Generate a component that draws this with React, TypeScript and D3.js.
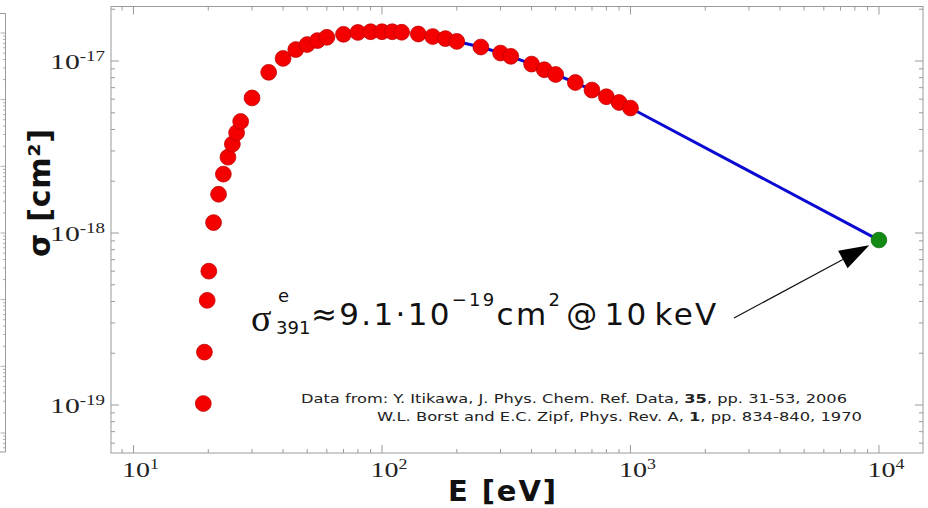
import React from "react";
import * as d3 from "d3";

const WIDTH = 928;
const HEIGHT = 508;

// Measured emission cross section of the N2+ 391.4 nm band under electron impact
const energyEV = [
  19.1, 19.3, 19.8, 20.1, 21, 22, 23, 24, 25, 26, 27, 30, 35, 40, 45, 50, 55, 60,
  70, 80, 90, 100, 110, 120, 140, 160, 180, 200, 250, 300, 330, 400, 450, 500,
  600, 700, 800, 900, 1000,
];
const sigmaCm2 = [
  1.02e-19, 2.03e-19, 4.06e-19, 6.0e-19, 1.15e-18, 1.68e-18, 2.2e-18, 2.76e-18,
  3.29e-18, 3.83e-18, 4.45e-18, 6.1e-18, 8.6e-18, 1.035e-17, 1.166e-17, 1.247e-17,
  1.315e-17, 1.374e-17, 1.43e-17, 1.466e-17, 1.48e-17, 1.48e-17, 1.48e-17, 1.47e-17,
  1.436e-17, 1.388e-17, 1.35e-17, 1.3e-17, 1.206e-17, 1.113e-17, 1.065e-17, 9.6e-18,
  8.9e-18, 8.35e-18, 7.5e-18, 6.78e-18, 6.2e-18, 5.74e-18, 5.33e-18,
];

// High-energy trend line starts here and is extended to 10 keV
const fitStartEV = 200;
const extrapEnergyEV = [10000];
const extrapSigmaCm2 = [9.1e-19];

const xDomain = [8.12, 15040];
const yDomain = [5.26e-20, 2.075e-17];

const refLine1 = ["Data from: Y. Itikawa, J. Phys. Chem. Ref. Data, ", "35", ", pp. 31-53, 2006"];
const refLine2 = ["W.L. Borst and E.C. Zipf, Phys. Rev. A, ", "1", ", pp. 834-840, 1970"];

const frame = { left: 111, right: 923, top: 6.5, bottom: 453 };
const GRAY = "#9a9a9a";
const SANS = "'DejaVu Sans', Verdana, sans-serif";
const SERIF = "'Liberation Serif', 'Times New Roman', serif";

const isDecade = (v: number) =>
  Math.abs(Math.log10(v) - Math.round(Math.log10(v))) < 1e-9;

export default function App() {
  const x = d3.scaleLog().domain(xDomain).range([frame.left, frame.right]);
  const y = d3.scaleLog().domain(yDomain).range([frame.bottom, frame.top]);

  const xTicks = x.ticks();
  const yTicks = y.ticks();

  const points = energyEV.map((e, i) => ({ e, s: sigmaCm2[i] }));
  const trend = points
    .filter((p) => p.e >= fitStartEV)
    .concat(extrapEnergyEV.map((e, i) => ({ e, s: extrapSigmaCm2[i] })));
  const line = d3
    .line<{ e: number; s: number }>()
    .x((d) => x(d.e))
    .y((d) => y(d.s));

  // Annotation arrow pointing at the extrapolated value
  const target = { x: x(extrapEnergyEV[0]), y: y(extrapSigmaCm2[0]) };
  const start = { x: 734, y: 318 };
  const dx = start.x - target.x;
  const dy = start.y - target.y;
  const len = Math.hypot(dx, dy);
  const ux = dx / len;
  const uy = dy / len;
  const tip = { x: target.x + ux * 11, y: target.y + uy * 11 };
  const headLen = 30;
  const headHalf = 10;
  const base = { x: tip.x + ux * headLen, y: tip.y + uy * headLen };
  const head = [
    [tip.x, tip.y],
    [base.x - uy * headHalf, base.y + ux * headHalf],
    [base.x + uy * headHalf, base.y - ux * headHalf],
  ];

  // Partial axis of an adjacent panel along the left edge
  const side = d3.scaleLog().domain([1, 1e6]).range([433, 33]);
  const sideTicks: { y: number; major: boolean }[] = [];
  for (let k = -1; k <= 7; k++) {
    for (let m = 1; m <= 9; m++) {
      const yy = side(m * Math.pow(10, k));
      if (yy > 14 && yy < 451) sideTicks.push({ y: yy, major: m === 1 });
    }
  }

  const mainSize = 31;
  const supSize = 18;
  const baseY = 325;
  const supShift = 19;

  return (
    <svg
      width={WIDTH}
      height={HEIGHT}
      style={{ position: "absolute", left: 0, top: 0, background: "#fff" }}
    >
      <rect x={0} y={0} width={WIDTH} height={HEIGHT} fill="#fff" />

      {/* adjacent panel edge */}
      <path d="M0,13.5H5.5V452H0" fill="none" stroke={GRAY} strokeWidth={1} />
      {sideTicks.map((t, i) => (
        <line
          key={i}
          x1={5.5}
          x2={t.major ? 0.5 : 3}
          y1={t.y}
          y2={t.y}
          stroke={GRAY}
          strokeWidth={0.8}
        />
      ))}

      {/* frame */}
      <rect
        x={frame.left}
        y={frame.top}
        width={frame.right - frame.left}
        height={frame.bottom - frame.top}
        fill="none"
        stroke={GRAY}
        strokeWidth={1}
      />

      {/* x ticks, bottom and top */}
      {xTicks.map((t, i) => {
        const L = isDecade(t) ? 8 : 4;
        const xx = x(t);
        return (
          <g key={i} stroke={GRAY} strokeWidth={1}>
            <line x1={xx} x2={xx} y1={frame.bottom} y2={frame.bottom - L} />
            <line x1={xx} x2={xx} y1={frame.top} y2={frame.top + L} />
          </g>
        );
      })}
      {/* y ticks, left and right */}
      {yTicks.map((t, i) => {
        const L = isDecade(t) ? 8 : 4;
        const yy = y(t);
        return (
          <g key={i} stroke={GRAY} strokeWidth={1}>
            <line x1={frame.left} x2={frame.left + L} y1={yy} y2={yy} />
            <line x1={frame.right} x2={frame.right - L} y1={yy} y2={yy} />
          </g>
        );
      })}

      {/* x tick labels */}
      {xTicks.filter(isDecade).map((t, i) => (
        <text
          key={i}
          x={x(t) - 11.5}
          y={477}
          fontFamily={SERIF}
          fontSize={22}
          fill="#222"
          textLength={37}
          lengthAdjust="spacingAndGlyphs"
        >
          10
          <tspan dy={-8} fontSize={14}>
            {Math.round(Math.log10(t))}
          </tspan>
        </text>
      ))}

      {/* y tick labels */}
      {yTicks.filter(isDecade).map((t, i) => (
        <text
          key={i}
          x={50}
          y={y(t) + 8}
          fontFamily={SERIF}
          fontSize={22}
          fill="#222"
          textLength={55}
          lengthAdjust="spacingAndGlyphs"
        >
          10
          <tspan dy={-8} fontSize={14}>
            {"-" + Math.abs(Math.round(Math.log10(t)))}
          </tspan>
        </text>
      ))}

      {/* axis titles */}
      <text
        x={502}
        y={501}
        textAnchor="middle"
        fontFamily={SANS}
        fontWeight="bold"
        fontSize={29}
        textLength={108}
        fill="#111"
      >
        E [eV]
      </text>
      <text
        transform="translate(50,193) rotate(-90)"
        textAnchor="middle"
        fontFamily={SANS}
        fontWeight="bold"
        fontSize={30}
        textLength={128}
        fill="#111"
      >
        σ [cm²]
      </text>

      {/* trend line */}
      <path d={line(trend) || ""} fill="none" stroke="#0a0ad2" strokeWidth={3} />

      {/* measured points */}
      {points.map((p, i) => (
        <circle
          key={i}
          cx={x(p.e)}
          cy={y(p.s)}
          r={7.9}
          fill="#f50000"
          stroke="#c00000"
          strokeWidth={0.8}
        />
      ))}

      {/* extrapolated point */}
      {extrapEnergyEV.map((e, i) => (
        <circle
          key={i}
          cx={x(e)}
          cy={y(extrapSigmaCm2[i])}
          r={7.8}
          fill="#138a13"
          stroke="#0d6e0d"
          strokeWidth={0.8}
        />
      ))}

      {/* annotation */}
      <g fill="#111">
        <text x={251} y={331} fontFamily={SERIF} fontSize={38}>
          σ
        </text>
        <text x={278} y={302} fontFamily={SANS} fontSize={supSize}>
          e
        </text>
        <text x={276} y={334} fontFamily={SANS} fontSize={supSize}>
          391
        </text>
        <text
          x={311}
          y={baseY}
          fontFamily={SANS}
          fontSize={mainSize}
          letterSpacing={2.3}
        >
          ≈9.1·10
          <tspan dy={-supShift} fontSize={supSize}>
            −19
          </tspan>
          <tspan dy={supShift}>cm</tspan>
          <tspan dy={-supShift} fontSize={supSize}>
            2
          </tspan>
          <tspan dy={supShift} dx={4}>
            @
          </tspan>
          <tspan dx={5}>10</tspan>
          <tspan dx={6}>keV</tspan>
        </text>
      </g>
      <line
        x1={start.x}
        y1={start.y}
        x2={base.x}
        y2={base.y}
        stroke="#111"
        strokeWidth={1.2}
      />
      <polygon points={head.map((p) => p.join(",")).join(" ")} fill="#000" />

      {/* data sources */}
      <g fontFamily={SANS} fontSize={13} fill="#222">
        <text x={301} y={403} textLength={546} lengthAdjust="spacingAndGlyphs">
          {refLine1[0]}
          <tspan fontWeight="bold">{refLine1[1]}</tspan>
          {refLine1[2]}
        </text>
        <text x={377} y={421} textLength={485} lengthAdjust="spacingAndGlyphs">
          {refLine2[0]}
          <tspan fontWeight="bold">{refLine2[1]}</tspan>
          {refLine2[2]}
        </text>
      </g>
    </svg>
  );
}
